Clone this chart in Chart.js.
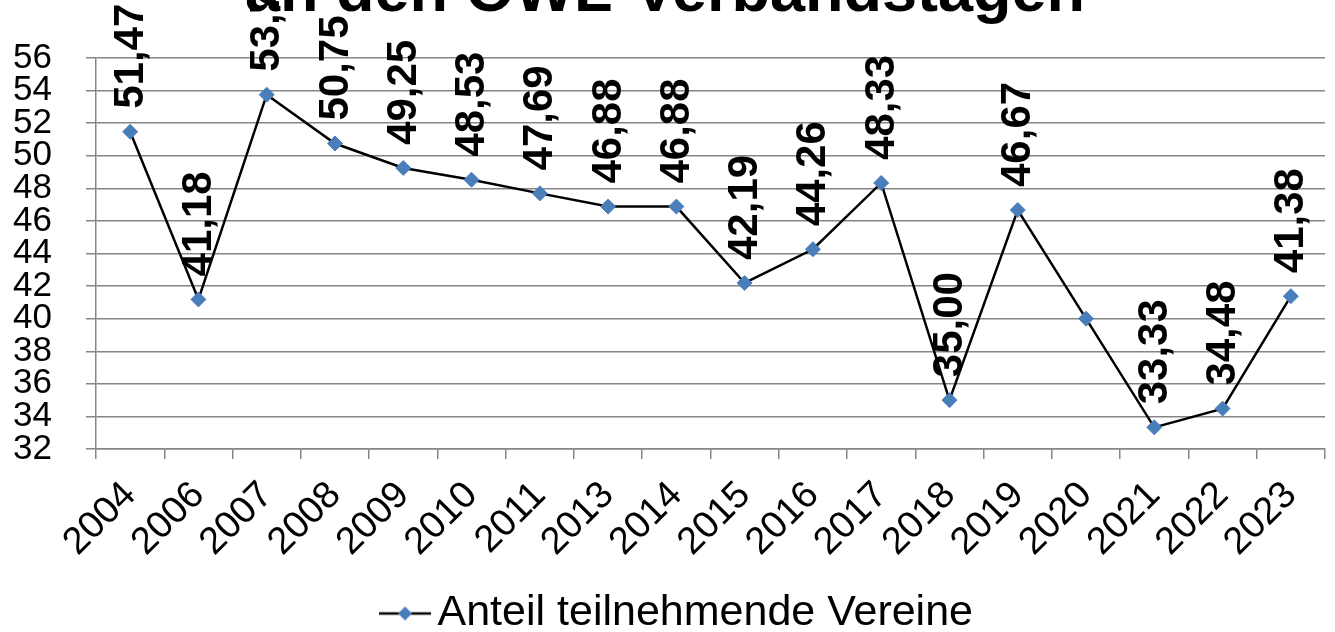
<!DOCTYPE html>
<html>
<head>
<meta charset="utf-8">
<script src="https://cdn.jsdelivr.net/npm/chart.js@4"></script>
<style>
  html, body { margin: 0; padding: 0; background: #fff; }
  #wrap { width: 1335px; height: 632px; position: relative; }
</style>
</head>
<body>
<div id="wrap"><canvas id="chart" width="1335" height="632"></canvas></div>
<script>
// Anteil teilnehmende Vereine an den OWL-Verbandstagen
const years = ['2004', '2006', '2007', '2008', '2009', '2010', '2011', '2013', '2014',
  '2015', '2016', '2017', '2018', '2019', '2020', '2021', '2022', '2023'];
const shares = [51.47, 41.18, 53.75, 50.75, 49.25, 48.53, 47.69, 46.88, 46.88,
  42.19, 44.26, 48.33, 35.00, 46.67, 40.00, 33.33, 34.48, 41.38];
// 2020 carries no value label in the original
const showLabel = [true, true, true, true, true, true, true, true, true,
  true, true, true, true, true, false, true, true, true];
const yTicks = [32, 34, 36, 38, 40, 42, 44, 46, 48, 50, 52, 54, 56];
const titleText = 'an den OWL-Verbandstagen';

const FONT = '"Liberation Sans", Arial, sans-serif';

// legend marker: short line with a diamond in the middle
function legendMarker() {
  const c = document.createElement('canvas');
  c.width = 52;
  c.height = 16;
  const g = c.getContext('2d');
  g.strokeStyle = '#000';
  g.lineWidth = 2.5;
  g.beginPath();
  g.moveTo(0, 8);
  g.lineTo(52, 8);
  g.stroke();
  g.fillStyle = '#4A7EBB';
  g.beginPath();
  g.moveTo(26, 1);
  g.lineTo(33, 8);
  g.lineTo(26, 15);
  g.lineTo(19, 8);
  g.closePath();
  g.fill();
  return c;
}

const valueLabels = {
  id: 'valueLabels',
  afterDatasetsDraw(chart) {
    const ctx = chart.ctx;
    const meta = chart.getDatasetMeta(0);
    ctx.save();
    ctx.font = 'bold 42px ' + FONT;
    ctx.fillStyle = '#000';
    ctx.textAlign = 'left';
    ctx.textBaseline = 'middle';
    meta.data.forEach((pt, i) => {
      if (!showLabel[i]) return;
      const txt = shares[i].toFixed(2).replace('.', ',');
      ctx.save();
      ctx.translate(pt.x + 1, pt.y - 23);
      ctx.rotate(-Math.PI / 2);
      ctx.fillText(txt, 0, 0);
      ctx.restore();
    });
    ctx.restore();
  }
};

const cutTitle = {
  id: 'cutTitle',
  afterDraw(chart) {
    const ctx = chart.ctx;
    ctx.save();
    ctx.font = 'bold 63px ' + FONT;
    ctx.fillStyle = '#000';
    ctx.textAlign = 'center';
    ctx.textBaseline = 'alphabetic';
    ctx.fillText(titleText, 665, 11);
    ctx.restore();
  }
};

// nudge the legend a little to the right, as in the original
const legendShift = {
  id: 'legendShift',
  afterLayout(chart) {
    if (chart.legend) {
      chart.legend.left += 21;
      chart.legend.right += 21;
    }
  }
};

new Chart(document.getElementById('chart').getContext('2d'), {
  type: 'line',
  data: {
    labels: years,
    datasets: [{
      label: 'Anteil teilnehmende Vereine',
      data: shares,
      borderColor: '#000',
      borderWidth: 2.5,
      tension: 0,
      pointStyle: 'rectRot',
      pointRadius: 7.5,
      pointHoverRadius: 7.5,
      pointBackgroundColor: '#4A7EBB',
      pointBorderColor: '#4A7EBB',
      pointBorderWidth: 1,
    }]
  },
  options: {
    responsive: false,
    animation: false,
    layout: { padding: { top: 58, left: 0, right: 10, bottom: -13 } },
    plugins: {
      title: { display: false },
      tooltip: { enabled: false },
      legend: {
        position: 'bottom',
        labels: {
          usePointStyle: true,
          pointStyleWidth: 22,
          padding: 0,
          color: '#000',
          font: { family: FONT, size: 43 },
          generateLabels: (chart) => [{
            text: chart.data.datasets[0].label,
            pointStyle: legendMarker(),
            fillStyle: '#4A7EBB',
            strokeStyle: '#000',
            lineWidth: 0,
            datasetIndex: 0,
          }]
        }
      }
    },
    scales: {
      x: {
        offset: true,
        afterFit: (scale) => {
          scale.height = 143;
          scale.paddingLeft = 0;
          scale.paddingRight = 0;
        },
        grid: {
          offset: true,
          drawOnChartArea: false,
          drawTicks: true,
          tickLength: 10,
          color: '#868686',
          lineWidth: 1.5,
        },
        border: { color: '#868686', width: 1.5 },
        ticks: {
          minRotation: 45,
          maxRotation: 45,
          autoSkip: false,
          padding: 14,
          labelOffset: 0,
          color: '#000',
          font: { family: FONT, size: 38 },
        }
      },
      y: {
        min: 32,
        max: 56,
        afterBuildTicks: (scale) => { scale.ticks = yTicks.map(v => ({ value: v })); },
        afterFit: (scale) => { scale.width = 96; },
        grid: {
          color: '#868686',
          lineWidth: 1.5,
          drawTicks: true,
          tickLength: 10,
        },
        border: { color: '#868686', width: 1.5 },
        ticks: {
          autoSkip: false,
          padding: 34,
          color: '#000',
          font: { family: FONT, size: 35 },
        }
      }
    }
  },
  plugins: [valueLabels, cutTitle, legendShift]
});
</script>
</body>
</html>
